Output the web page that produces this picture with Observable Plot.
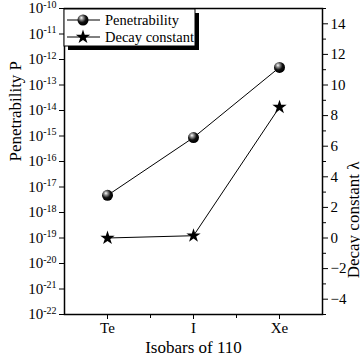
<!DOCTYPE html>
<html><head><meta charset="utf-8">
<script src="https://cdn.jsdelivr.net/npm/d3@7"></script>
<script src="https://cdn.jsdelivr.net/npm/@observablehq/plot@0.6"></script>
<style>
body{margin:0;background:#fff}
#chart{position:relative;width:360px;height:363px;overflow:hidden}
#chart svg{position:absolute;left:0;top:0}
#chart svg, #chart svg text, #chart svg tspan{font-family:"Liberation Serif","Times New Roman","DejaVu Serif",serif !important}
</style>
</head><body><div id="chart"></div>
<script>
const isobars = ["Te", "I", "Xe"];
const isobarPos = [1, 2, 3];
const penetrability = [4.7e-18, 8.7e-16, 4.9e-13];
const decayConstant = [0, 0.15, 8.55];
const leftExponents = [-22, -21, -20, -19, -18, -17, -16, -15, -14, -13, -12, -11, -10];
const rightMajor = [-4, -2, 0, 2, 4, 6, 8, 10, 12, 14];
const rightMinor = [-5, -3, -1, 1, 3, 5, 7, 9, 11, 13, 15];
const xMinor = [1.5, 2.5];

const W = 360, H = 363;
const M = {top: 8, right: 38, bottom: 49, left: 64};
const FF = "'Liberation Serif', 'Times New Roman', 'DejaVu Serif', serif";
const font = {fontFamily: FF, fontSize: "15px", background: "transparent", color: "black"};

const pData = isobars.map((k, i) => ({k, x: isobarPos[i], p: penetrability[i]}));
const dData = isobars.map((k, i) => ({k, x: isobarPos[i], d: decayConstant[i]}));
const xDomain = [0.5, 3.5];
const sphere = "url(#sphereGrad)";

const plot1 = Plot.plot({
  width: W, height: H,
  marginTop: M.top, marginRight: M.right, marginBottom: M.bottom, marginLeft: M.left,
  style: font,
  x: {domain: xDomain},
  y: {type: "log", domain: [1e-22, 1e-10]},
  marks: [
    Plot.axisY(leftExponents.map(e => Math.pow(10, e)), {
      tickSize: 5, tickPadding: 3, stroke: "black",
      tickFormat: d => "10|" + Math.round(Math.log10(d)),
      label: null
    }),
    Plot.axisX(isobarPos, {tickSize: 5, tickPadding: 3, tickFormat: (d, i) => isobars[i], label: null, stroke: "black"}),
    Plot.axisX(xMinor, {tickSize: 4, tickFormat: () => "", label: null, stroke: "black"}),
    Plot.text(["Isobars of 110"], {frameAnchor: "bottom", dy: 38, fontSize: 17}),
    Plot.text(["Penetrability P"], {frameAnchor: "left", dx: -49, rotate: -90, fontSize: 17}),
    Plot.line(pData, {x: "x", y: "p", stroke: "black", strokeWidth: 1}),
    Plot.dot(pData, {x: "x", y: "p", r: 5.5, fill: sphere, stroke: "none"}),
    Plot.frame({stroke: "black", strokeWidth: 1.5})
  ]
});

const s1 = d3.select(plot1);
const defs = s1.insert("defs", ":first-child");
const grad = defs.append("radialGradient").attr("id", "sphereGrad").attr("cx", "40%").attr("cy", "35%").attr("r", "60%").attr("fx", "35%").attr("fy", "30%");
grad.append("stop").attr("offset", "0%").attr("stop-color", "#ffffff");
grad.append("stop").attr("offset", "25%").attr("stop-color", "#9a9a9a");
grad.append("stop").attr("offset", "65%").attr("stop-color", "#111");
grad.append("stop").attr("offset", "100%").attr("stop-color", "#000");

s1.selectAll('g[aria-label="y-axis tick label"] text').each(function () {
  const t = d3.select(this);
  const parts = t.text().split("|");
  t.text("");
  t.append("tspan").text(parts[0]);
  t.append("tspan").attr("dy", "-0.55em").attr("font-size", "10px").text(parts[1]);
});

const plot2 = Plot.plot({
  width: W, height: H,
  marginTop: M.top, marginRight: M.right, marginBottom: M.bottom, marginLeft: M.left,
  style: font,
  x: {domain: xDomain, axis: null},
  y: {domain: [-5, 15], axis: null},
  marks: [
    Plot.axisY(rightMajor, {anchor: "right", tickSize: 5, tickPadding: 3, stroke: "black", label: null}),
    Plot.axisY(rightMinor, {anchor: "right", tickSize: 3, tickFormat: () => "", stroke: "black", label: null}),
    Plot.text(["Decay constant λ"], {frameAnchor: "right", dx: 31, rotate: -90, fontSize: 17}),
    Plot.line(dData, {x: "x", y: "d", stroke: "black", strokeWidth: 1}),
    Plot.dot(dData, {x: "x", y: "d", r: 4.5, symbol: "star", fill: "black", stroke: "none"})
  ]
});

const s2 = d3.select(plot2);
const lg = s2.append("g").attr("font-size", 14.5).attr("text-anchor", "start");
const lx = 64, ly = 9, lw = 131, lh = 37;
lg.append("rect").attr("x", lx + 4).attr("y", ly + 4).attr("width", lw).attr("height", lh).attr("fill", "black");
lg.append("rect").attr("x", lx).attr("y", ly).attr("width", lw).attr("height", lh).attr("fill", "white").attr("stroke", "black").attr("stroke-width", 1);
const rows = [{label: "Penetrability", type: "sphere"}, {label: "Decay constant", type: "star"}];
rows.forEach((r, i) => {
  const y = ly + 11 + i * 17;
  lg.append("line").attr("x1", lx + 3).attr("x2", lx + 36).attr("y1", y).attr("y2", y).attr("stroke", "black");
  if (r.type === "sphere") {
    lg.append("circle").attr("cx", lx + 19).attr("cy", y).attr("r", 5.5).attr("fill", sphere);
  } else {
    lg.append("path").attr("transform", `translate(${lx + 19},${y})`).attr("d", d3.symbol(d3.symbolStar, 4.5 * 4.5 * Math.PI)()).attr("fill", "black");
  }
  lg.append("text").attr("x", lx + 41).attr("y", y).attr("dy", "0.35em").text(r.label);
});

const chart = document.getElementById("chart");
chart.appendChild(plot1);
chart.appendChild(plot2);
</script>
</body></html>
